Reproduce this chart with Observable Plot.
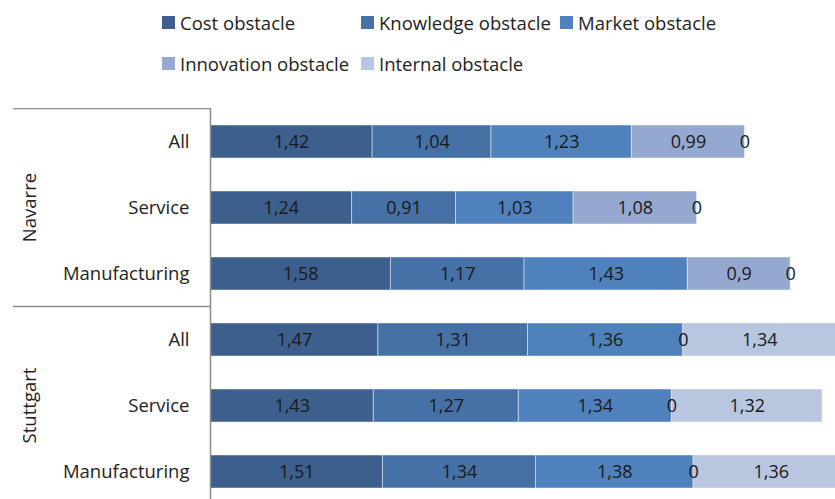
<!DOCTYPE html>
<html>
<head>
<meta charset="utf-8">
<script src="https://cdn.jsdelivr.net/npm/d3@7"></script>
<script src="https://cdn.jsdelivr.net/npm/@observablehq/plot@0.6"></script>
<style>
  html, body { margin: 0; padding: 0; background: #fff; }
  body { width: 835px; height: 499px; overflow: hidden; font-family: "Open Sans", sans-serif; }
  #wrap { position: relative; width: 835px; height: 499px; overflow: hidden; }
  #legend { position: relative; width: 835px; height: 108px; }
  .item { position: absolute; display: flex; align-items: center; font-size: 18.5px; color: #222; white-space: nowrap; }
  .sw { width: 13px; height: 13px; margin-right: 5px; }
  #chart svg { display: block; }
</style>
</head>
<body>
<div id="wrap">
  <div id="legend"></div>
  <div id="chart"></div>
</div>
<script>
// ---- data ----
const regions = ["Navarre", "Navarre", "Navarre", "Stuttgart", "Stuttgart", "Stuttgart"];
const sectors = ["All", "Service", "Manufacturing", "All", "Service", "Manufacturing"];
const obstacles = ["Cost obstacle", "Knowledge obstacle", "Market obstacle", "Innovation obstacle", "Internal obstacle"];
const costObstacle       = [1.42, 1.24, 1.58, 1.47, 1.43, 1.51];
const knowledgeObstacle  = [1.04, 0.91, 1.17, 1.31, 1.27, 1.34];
const marketObstacle     = [1.23, 1.03, 1.43, 1.36, 1.34, 1.38];
const innovationObstacle = [0.99, 1.08, 0.90, 0, 0, 0];
const internalObstacle   = [0, 0, 0, 1.34, 1.32, 1.36];
const colors = ["#3c5f8e", "#4571a6", "#4f81bd", "#95a9d0", "#b9c6e0"];

// ---- build long table ----
const series = [costObstacle, knowledgeObstacle, marketObstacle, innovationObstacle, internalObstacle];
const keys = regions.map((r, i) => r + "|" + sectors[i]);
const rows = [];
keys.forEach((k, i) => {
  series.forEach((s, j) => rows.push({key: k, region: regions[i], sector: sectors[i], obstacle: obstacles[j], value: s[i]}));
});
const groups = Array.from(new Set(regions)).map(r => {
  const ks = keys.filter(k => k.startsWith(r + "|"));
  return {region: r, first: ks[0], mid: ks[Math.floor(ks.length / 2)]};
});
const fmt = v => String(v).replace(".", ",");

// ---- legend ----
const legendPos = [[162, 17], [361, 17], [560, 17], [162, 58], [361, 58]];
const legend = document.getElementById("legend");
obstacles.forEach((o, i) => {
  const it = document.createElement("div");
  it.className = "item";
  it.style.left = legendPos[i][0] + "px";
  it.style.top = (legendPos[i][1] - 7) + "px";
  it.innerHTML = `<span class="sw" style="background:${colors[i]}"></span><span>${o}</span>`;
  legend.appendChild(it);
});

// ---- group separators and rotated group labels (custom mark in left margin) ----
function groupDecor(index, scales, values, dims) {
  const g = d3.create("svg:g");
  const y = scales.y;
  const step = y.step ? y.step() : 66;
  const bw = y.bandwidth();
  groups.forEach(gr => {
    const yy = y(gr.first) - (step - bw) / 2;
    g.append("line")
      .attr("x1", 13).attr("x2", dims.marginLeft)
      .attr("y1", yy).attr("y2", yy)
      .attr("stroke", "#8c8c8c").attr("stroke-width", 1.5);
    const cy = y(gr.mid) + bw / 2;
    g.append("text")
      .attr("transform", `translate(${dims.marginLeft - 180},${cy}) rotate(-90)`)
      .attr("text-anchor", "middle")
      .attr("dy", "0.35em")
      .attr("font-size", 18.5)
      .attr("fill", "#222")
      .text(gr.region);
  });
  return g.node();
}

const plot = Plot.plot({
  width: 835,
  height: 391,
  marginLeft: 210,
  marginRight: 0,
  marginTop: 0,
  marginBottom: 0,
  style: {fontFamily: "Open Sans, sans-serif", fontSize: "18.5px", color: "#222", background: "#fff"},
  x: {domain: [0, 5.473], axis: null},
  y: {domain: keys, range: [0.5, 396.5], paddingInner: 0.5, paddingOuter: 0.25, label: null},
  color: {domain: obstacles, range: colors},
  marks: [
    Plot.barX(rows, Plot.stackX({x: "value", y: "key", fill: "obstacle", z: "obstacle", stroke: "#ffffff", strokeOpacity: 0.45, strokeWidth: 1, clip: true})),
    Plot.text(rows, Plot.stackX({x: "value", y: "key", z: "obstacle", text: d => fmt(d.value), fill: "#1a1a1a", fontSize: 18})),
    Plot.axisY({tickSize: 0, tickPadding: 21, tickFormat: k => k.split("|")[1], fontSize: 18.5, fill: "#222"}),
    Plot.ruleX([0], {stroke: "#8c8c8c", strokeWidth: 1.5}),
    groupDecor
  ]
});
document.getElementById("chart").appendChild(plot);
</script>
</body>
</html>
